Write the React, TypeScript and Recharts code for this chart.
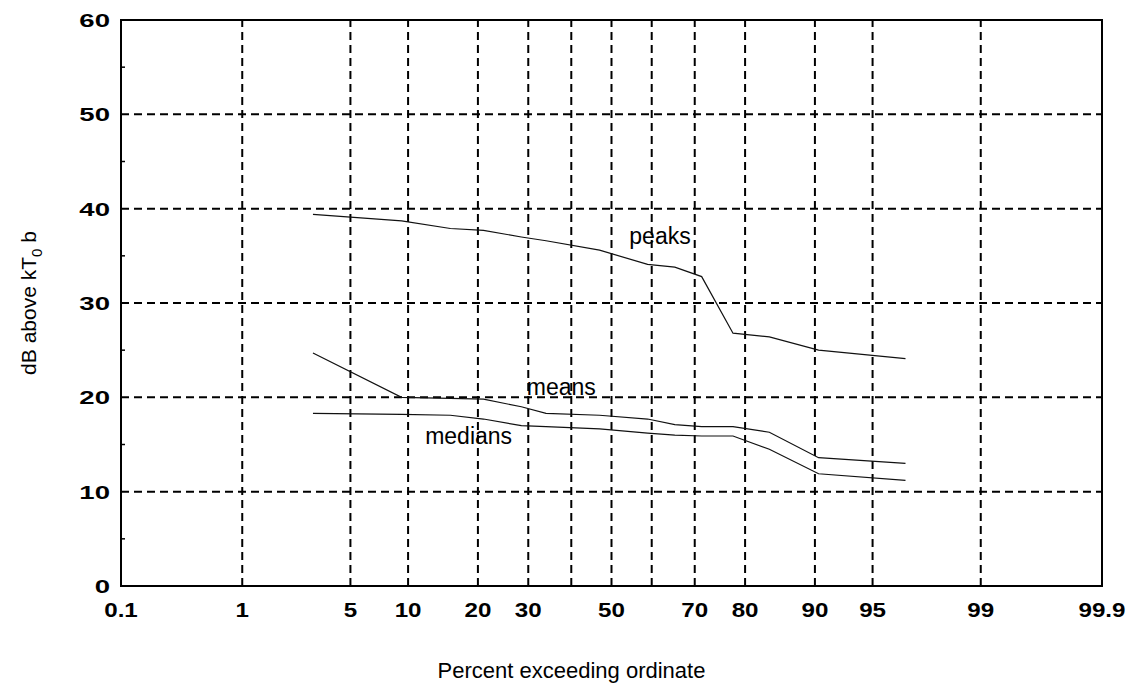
import React from "react";
import { LineChart, Line, XAxis, YAxis, ReferenceLine, ReferenceArea, ReferenceDot } from "recharts";

// percent of time the ordinate is exceeded, and the three noise statistics in dB
const percents = [3, 9.3, 15.5, 21, 28.5, 34, 47, 59, 65.5, 71.5, 77.8, 84, 90.4, 96.8];
const peaks = [39.4, 38.7, 37.9, 37.7, 37.0, 36.6, 35.6, 34.1, 33.8, 32.8, 26.8, 26.4, 25.0, 24.1];
const means = [24.7, 20.0, 19.9, 19.8, 19.0, 18.3, 18.1, 17.7, 17.1, 16.9, 16.9, 16.3, 13.6, 13.0];
const medians = [18.3, 18.2, 18.1, 17.7, 17.0, 16.9, 16.65, 16.2, 16.0, 15.9, 15.9, 14.5, 11.9, 11.2];

const xTickLabels = ["0.1", "1", "5", "10", "20", "30", "50", "70", "80", "90", "95", "99", "99.9"];
const xGridPercents = [1, 5, 10, 20, 30, 40, 50, 60, 70, 80, 90, 95, 99];
const yTicks = [0, 5, 10, 15, 20, 25, 30, 35, 40, 45, 50, 55, 60];
const yGrid = [10, 20, 30, 40, 50];

const FONT = "Arial, 'Liberation Sans', sans-serif";

// inverse of the standard normal CDF (Acklam's rational approximation)
const probit = (p: number) => {
  const a = [-3.969683028665376e1, 2.209460984245205e2, -2.759285104469687e2, 1.38357751867269e2, -3.066479806614716e1, 2.506628277459239];
  const b = [-5.447609879822406e1, 1.615858368580409e2, -1.556989798598866e2, 6.680131188771972e1, -1.328068155288572e1];
  const c = [-7.784894002430293e-3, -3.223964580411365e-1, -2.400758277161838, -2.549732539343734, 4.374664141425218, 2.938163982698783];
  const d = [7.784695709041462e-3, 3.224671290700398e-1, 2.445134137142996, 3.754408181723732];
  const plow = 0.02425;
  if (p < plow) {
    const q = Math.sqrt(-2 * Math.log(p));
    return (((((c[0] * q + c[1]) * q + c[2]) * q + c[3]) * q + c[4]) * q + c[5]) / ((((d[0] * q + d[1]) * q + d[2]) * q + d[3]) * q + 1);
  }
  if (p > 1 - plow) {
    const q = Math.sqrt(-2 * Math.log(1 - p));
    return -(((((c[0] * q + c[1]) * q + c[2]) * q + c[3]) * q + c[4]) * q + c[5]) / ((((d[0] * q + d[1]) * q + d[2]) * q + d[3]) * q + 1);
  }
  const q = p - 0.5;
  const r = q * q;
  return ((((((a[0] * r + a[1]) * r + a[2]) * r + a[3]) * r + a[4]) * r + a[5]) * q) / (((((b[0] * r + b[1]) * r + b[2]) * r + b[3]) * r + b[4]) * r + 1);
};

const zOf = (pct: number) => probit(pct / 100);
const zMin = zOf(0.1);
const zMax = zOf(99.9);

const data = percents.map((p, i) => ({
  z: zOf(p),
  peaks: peaks[i],
  means: means[i],
  medians: medians[i],
}));

const xTicks = xTickLabels.map((l) => zOf(parseFloat(l)));

const XTick = (props: any) => {
  const { x, y, index } = props;
  return (
    <g transform={`translate(${x},${y}) scale(1.15,1)`}>
      <text x={0} y={31} textAnchor="middle" fontSize={21} fontWeight="bold" fontFamily={FONT} fill="#000">
        {xTickLabels[index]}
      </text>
    </g>
  );
};

const YTickLeft = (props: any) => {
  const { x, y, payload } = props;
  if (payload.value % 10 !== 0) {
    return <line x1={x} x2={x + 4} y1={y} y2={y} stroke="#000" strokeWidth={1.5} />;
  }
  return (
    <g transform={`translate(${x - 11},${y}) scale(1.45,1)`}>
      <text x={0} y={7} textAnchor="end" fontSize={19} fontWeight="bold" fontFamily={FONT} fill="#000">
        {payload.value}
      </text>
    </g>
  );
};

const YTickRight = (props: any) => {
  const { x, y, payload } = props;
  if (payload.value % 10 === 0) return <g />;
  return <line x1={x - 4} x2={x} y1={y} y2={y} stroke="#000" strokeWidth={1.5} />;
};

const YTitle = (props: any) => {
  const { viewBox } = props;
  const cx = viewBox.x - 32;
  const cy = viewBox.y + viewBox.height / 2;
  return (
    <text
      transform={`translate(${cx},${cy}) rotate(-90)`}
      textAnchor="middle"
      fontSize={21}
      fontFamily={FONT}
      fill="#000"
      y={7}
    >
      dB above kT
      <tspan fontSize={15} dy={6}>0</tspan>
      <tspan dy={-6}> b</tspan>
    </text>
  );
};

const XTitle = (props: any) => {
  const { viewBox } = props;
  return (
    <text
      x={viewBox.x + viewBox.width / 2 - 40}
      y={viewBox.y + 92}
      textAnchor="middle"
      fontSize={22}
      fontFamily={FONT}
      fill="#000"
    >
      Percent exceeding ordinate
    </text>
  );
};

const seriesLabel = (text: string) => ({
  value: text,
  position: "center" as const,
  fontSize: 23,
  fontFamily: FONT,
  fill: "#000",
});

export default function App() {
  return (
    <div style={{ position: "absolute", left: 0, top: 0, background: "#fff" }}>
      <LineChart width={1135} height={686} data={data} margin={{ top: 20, right: 29, left: 61, bottom: 40 }}>
        <XAxis
          dataKey="z"
          type="number"
          domain={[zMin, zMax]}
          ticks={xTicks}
          interval={0}
          tickSize={0}
          tickMargin={0}
          tickLine={false}
          axisLine={false}
          height={60}
          tick={<XTick />}
          label={<XTitle />}
          allowDataOverflow
        />
        <YAxis
          yAxisId="left"
          type="number"
          domain={[0, 60]}
          ticks={yTicks}
          interval={0}
          tickSize={0}
          tickMargin={0}
          tickLine={false}
          axisLine={false}
          width={60}
          tick={<YTickLeft />}
          label={<YTitle />}
        />
        <YAxis
          yAxisId="right"
          orientation="right"
          type="number"
          domain={[0, 60]}
          ticks={yTicks}
          interval={0}
          tickSize={0}
          tickMargin={0}
          tickLine={false}
          axisLine={false}
          width={4}
          tick={<YTickRight />}
        />

        {yGrid.map((v) => (
          <ReferenceLine key={`h${v}`} yAxisId="left" y={v} stroke="#000" strokeWidth={2} strokeDasharray="8 5" />
        ))}
        {xGridPercents.map((p) => (
          <ReferenceLine key={`v${p}`} yAxisId="left" x={zOf(p)} stroke="#000" strokeWidth={2} strokeDasharray="8 5" />
        ))}
        <ReferenceArea yAxisId="left" x1={zMin} x2={zMax} y1={0} y2={60} fill="none" stroke="#000" strokeWidth={2} />

        <Line yAxisId="left" type="linear" dataKey="peaks" stroke="#111" strokeWidth={1.2} dot={false} isAnimationActive={false} />
        <Line yAxisId="left" type="linear" dataKey="means" stroke="#111" strokeWidth={1.2} dot={false} isAnimationActive={false} />
        <Line yAxisId="left" type="linear" dataKey="medians" stroke="#111" strokeWidth={1.2} dot={false} isAnimationActive={false} />

        <ReferenceDot yAxisId="left" x={zOf(62)} y={37.1} r={0} label={seriesLabel("peaks")} />
        <ReferenceDot yAxisId="left" x={zOf(37.6)} y={21.1} r={0} label={seriesLabel("means")} />
        <ReferenceDot yAxisId="left" x={zOf(18.4)} y={15.9} r={0} label={seriesLabel("medians")} />
      </LineChart>
    </div>
  );
}
